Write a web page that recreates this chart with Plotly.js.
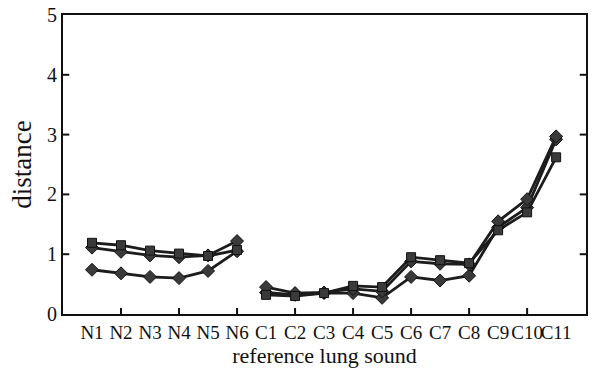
<!DOCTYPE html>
<html>
<head>
<meta charset="utf-8">
<script src="https://cdn.plot.ly/plotly-3.0.1.min.js"></script>
<style>html,body{margin:0;padding:0;background:#fff;}#chart{width:599px;height:369px;}</style>
</head>
<body>
<div id="chart"></div>
<script>
// Categories
const normalCats = ["N1","N2","N3","N4","N5","N6"];
const crackleCats = ["C1","C2","C3","C4","C5","C6","C7","C8","C9","C10","C11"];
const allCats = normalCats.concat(crackleCats);
const yTicks = [0, 1, 2, 3, 4, 5];

// Series values (distance)
const sqN = [1.19, 1.15, 1.06, 1.01, 0.97, 1.07];
const sqC = [0.32, 0.30, 0.35, 0.47, 0.45, 0.95, 0.90, 0.85, 1.40, 1.70, 2.62];
const diaHiN = [1.11, 1.04, 0.98, 0.95, 0.98, 1.22];
const diaHiC = [0.45, 0.35, 0.36, 0.42, 0.38, 0.88, 0.84, 0.83, 1.55, 1.92, 2.97];
const diaLoN = [0.74, 0.68, 0.62, 0.60, 0.72, 1.05];
const diaLoC = [0.36, 0.32, 0.35, 0.35, 0.27, 0.62, 0.56, 0.64, 1.45, 1.78, 2.92];

// category -> position on the axis
const pos = c => allCats.indexOf(c);
const xN = normalCats.map(pos);
const xC = crackleCats.map(pos);

const lineCol = "#1c1c1c";
function tr(x, y, sym){
  return {x:x, y:y, type:"scatter", mode:"lines+markers", showlegend:false,
    line:{color:lineCol, width:2.8},
    marker:{symbol:sym, size:sym==="square"?9:10, color:"#3a3a3a", line:{color:"#111", width:1}},
    hoverinfo:"skip"};
}
const data = [
  tr(xN, diaLoN, "diamond"), tr(xC, diaLoC, "diamond"),
  tr(xN, diaHiN, "diamond"), tr(xC, diaHiC, "diamond"),
  tr(xN, sqN, "square"), tr(xC, sqC, "square")
];

const allIdx = allCats.map(pos);
const tickIdx = allIdx.filter(i=>i%2===1);
const font = "Liberation Serif";

// inward tick marks drawn as axis-referenced decorations
const tickStyle = {color:"#111", width:2};
const shapes = [];
tickIdx.forEach(i => shapes.push({type:"line", xref:"x", yref:"paper", x0:i, x1:i, y0:0, y1:0.02, line:tickStyle}));
yTicks.slice(1, -1).forEach(v => {
  shapes.push({type:"line", xref:"paper", yref:"y", x0:0, x1:0.012, y0:v, y1:v, line:tickStyle});
  shapes.push({type:"line", xref:"paper", yref:"y", x0:0.988, x1:1, y0:v, y1:v, line:tickStyle});
});

const layout = {
  width:599, height:369,
  margin:{l:63, r:13, t:15, b:55},
  paper_bgcolor:"#fff", plot_bgcolor:"#fff",
  font:{family:font, color:"#111"},
  shapes: shapes,
  xaxis:{type:"linear", range:[-1, 17.03], showgrid:false, zeroline:false,
    showline:true, linecolor:"#111", linewidth:2, mirror:true,
    tickmode:"array", tickvals:allIdx, ticktext:allCats,
    ticks:"", tickangle:0,
    tickfont:{size:19, family:font, color:"#111"},
    title:{text:"reference lung sound", font:{size:22, family:font, color:"#111"}, standoff:0}},
  yaxis:{range:[0,5], tickmode:"array", tickvals:yTicks, showgrid:false, zeroline:false,
    showline:true, linecolor:"#111", linewidth:2, mirror:true,
    ticks:"", 
    tickfont:{size:20, family:font, color:"#111"},
    title:{text:"distance", font:{size:27, family:font, color:"#111"}, standoff:8}}
};
Plotly.newPlot("chart", data, layout, {staticPlot:true, displayModeBar:false});
</script>
</body>
</html>
